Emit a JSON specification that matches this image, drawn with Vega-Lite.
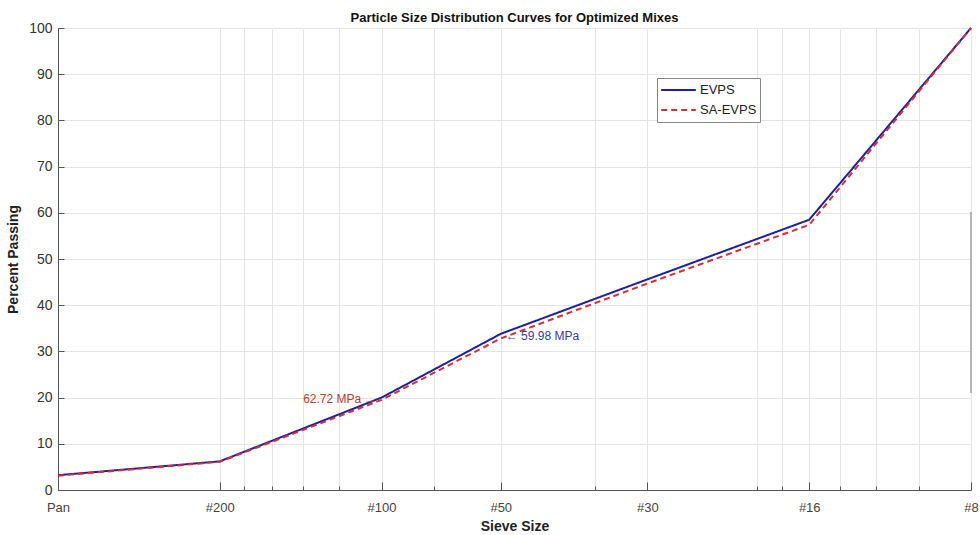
{
  "$schema": "https://vega.github.io/schema/vega-lite/v6.json",
  "width": 913,
  "height": 462,
  "autosize": "none",
  "padding": {"left": 58, "top": 28, "right": 9, "bottom": 45},
  "background": "white",
  "config": {
    "font": "Liberation Sans",
    "view": {"stroke": null},
    "axis": {
      "gridColor": "#e4e4e4",
      "gridWidth": 1,
      "domainColor": "#555555",
      "tickColor": "#555555",
      "labelColor": "#333333",
      "titleColor": "#222222",
      "titleFontWeight": "bold",
      "titleFontSize": 14,
      "labelFontSize": 13
    }
  },
  "title": {
    "text": "Particle Size Distribution Curves for Optimized Mixes",
    "fontSize": 13,
    "fontWeight": "bold",
    "color": "#111111",
    "anchor": "middle",
    "offset": -4
  },
  "datasets": {
    "curves": [
      {"sieve": "Pan", "size": 200, "series": "EVPS", "pct": 3.2},
      {"sieve": "#200", "size": 100, "series": "EVPS", "pct": 6.2},
      {"sieve": "#100", "size": 50, "series": "EVPS", "pct": 20.0},
      {"sieve": "#50", "size": 30, "series": "EVPS", "pct": 33.8},
      {"sieve": "#30", "size": 16, "series": "EVPS", "pct": 45.6},
      {"sieve": "#16", "size": 8, "series": "EVPS", "pct": 58.5},
      {"sieve": "#8", "size": 4, "series": "EVPS", "pct": 100},
      {"sieve": "Pan", "size": 200, "series": "SA-EVPS", "pct": 3.1},
      {"sieve": "#200", "size": 100, "series": "SA-EVPS", "pct": 6.1},
      {"sieve": "#100", "size": 50, "series": "SA-EVPS", "pct": 19.5},
      {"sieve": "#50", "size": 30, "series": "SA-EVPS", "pct": 32.8},
      {"sieve": "#30", "size": 16, "series": "SA-EVPS", "pct": 44.7},
      {"sieve": "#16", "size": 8, "series": "SA-EVPS", "pct": 57.4},
      {"sieve": "#8", "size": 4, "series": "SA-EVPS", "pct": 100}
    ],
    "noteRed": [{"label": "62.72 MPa →", "size": 50, "pct": 19.6}],
    "noteBlue": [{"label": "← 59.98 MPa", "size": 30, "pct": 33.4}],
    "edge": [{"size": 4, "lo": 21, "hi": 60.2}]
  },
  "layer": [
    {
      "data": {"name": "edge"},
      "mark": {"type": "rule", "color": "#b5b5b5", "strokeWidth": 2},
      "encoding": {
        "x": {"field": "size", "type": "quantitative", "scale": {"type": "log", "domain": [4, 200], "nice": false, "reverse": true}},
        "y": {"field": "lo", "type": "quantitative"},
        "y2": {"field": "hi"}
      }
    },
    {
      "data": {"name": "curves"},
      "mark": {"type": "line", "strokeWidth": 2},
      "encoding": {
        "x": {
          "field": "size",
          "type": "quantitative",
          "scale": {"type": "log", "domain": [4, 200], "nice": false, "reverse": true},
          "title": "Sieve Size",
          "axis": {
            "values": [200, 100, 90, 80, 70, 60, 50, 40, 30, 20, 16, 10, 9, 8, 7, 6, 5, 4],
            "labelExpr": "datum.value==200?'Pan':datum.value==100?'#200':datum.value==50?'#100':datum.value==30?'#50':datum.value==16?'#30':datum.value==8?'#16':datum.value==4?'#8':''",
            "labelOverlap": false,
            "labelFlush": false,
            "tickSize": {"condition": {"test": "indexof([200,100,50,30,16,8,4], datum.value) >= 0", "value": -8}, "value": -4},
            "labelPadding": 19,
            "labelFontSize": 13,
            "labelColor": "#444444",
            "titlePadding": 1
          }
        },
        "y": {
          "field": "pct",
          "type": "quantitative",
          "scale": {"domain": [0, 100], "nice": false},
          "title": "Percent Passing",
          "axis": {
            "values": [0, 10, 20, 30, 40, 50, 60, 70, 80, 90, 100],
            "tickSize": -6,
            "labelPadding": 12,
            "labelFontSize": 14,
            "titlePadding": 8
          }
        },
        "color": {
          "field": "series",
          "type": "nominal",
          "scale": {"domain": ["EVPS", "SA-EVPS"], "range": ["#1f1fa0", "#d43030"]},
          "legend": {
            "title": null,
            "orient": "none",
            "legendX": 599,
            "legendY": 50,
            "symbolType": "M-1,0H1",
            "symbolSize": 1200,
            "symbolStrokeWidth": 2,
            "clipHeight": 18,
            "labelFontSize": 13,
            "labelOffset": 3,
            "labelColor": "#222222",
            "fillColor": "white",
            "strokeColor": "#888888",
            "padding": 3,
            "rowPadding": 2
          }
        },
        "strokeDash": {
          "field": "series",
          "type": "nominal",
          "scale": {"domain": ["EVPS", "SA-EVPS"], "range": [[1, 0], [6, 4]]},
          "legend": null
        }
      }
    },
    {
      "data": {"name": "noteRed"},
      "mark": {"type": "text", "align": "right", "baseline": "middle", "fontSize": 12, "color": "#c0392b", "dx": -5},
      "encoding": {
        "x": {"field": "size", "type": "quantitative"},
        "y": {"field": "pct", "type": "quantitative"},
        "text": {"field": "label"}
      }
    },
    {
      "data": {"name": "noteBlue"},
      "mark": {"type": "text", "align": "left", "baseline": "middle", "fontSize": 12, "color": "#3a3a9e", "dx": 5},
      "encoding": {
        "x": {"field": "size", "type": "quantitative"},
        "y": {"field": "pct", "type": "quantitative"},
        "text": {"field": "label"}
      }
    }
  ]
}
